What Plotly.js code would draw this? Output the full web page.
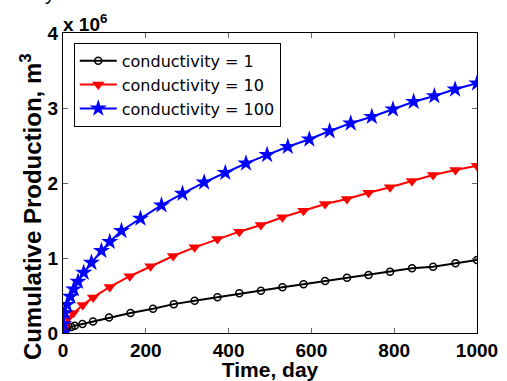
<!DOCTYPE html>
<html>
<head>
<meta charset="utf-8">
<script src="https://cdn.plot.ly/plotly-3.0.1.min.js"></script>
<style>
  html, body { margin: 0; padding: 0; background: #fff; }
  #chart { width: 507px; height: 381px; }
</style>
</head>
<body>
<div id="chart"></div>
<script>
// Cumulative production in units of 1e6 m^3
const t1 = [0, 2, 5, 10, 20.3, 28.3, 46.9, 72.5, 111.2, 163, 217.5, 267.6, 318, 373, 426, 478, 530, 581, 633, 686, 738, 790, 843, 894, 948, 1000];
const v1 = [0, 0.02, 0.04, 0.06, 0.08, 0.097, 0.12, 0.154, 0.207, 0.266, 0.323, 0.385, 0.429, 0.476, 0.529, 0.564, 0.609, 0.649, 0.693, 0.737, 0.773, 0.817, 0.862, 0.884, 0.929, 0.973];

const t10 = [0, 2, 5, 12.3, 24.9, 47.6, 72.8, 113, 161.3, 211.4, 266, 318, 373, 426, 478, 530, 581, 633, 686, 738, 790, 843, 894, 948, 1000];
const v10 = [0, 0.06, 0.12, 0.2, 0.266, 0.372, 0.474, 0.615, 0.757, 0.89, 1.027, 1.142, 1.253, 1.351, 1.44, 1.543, 1.631, 1.72, 1.787, 1.871, 1.943, 2.027, 2.107, 2.173, 2.231];

const t100 = [0, 1, 4.1, 9.7, 17.9, 25.9, 36.3, 50, 68.6, 92.8, 112.9, 141.2, 187.1, 237.9, 288.6, 341, 392, 442, 493, 543, 595, 644, 695, 746, 797, 847, 897, 947, 1000];
const v100 = [0, 0.12, 0.266, 0.376, 0.486, 0.584, 0.685, 0.805, 0.938, 1.097, 1.217, 1.363, 1.527, 1.704, 1.859, 2.009, 2.137, 2.262, 2.375, 2.484, 2.583, 2.693, 2.796, 2.884, 2.983, 3.084, 3.16, 3.249, 3.329];

const seriesNames = ['conductivity = 1', 'conductivity = 10', 'conductivity = 100'];
const xTicks = [0, 200, 400, 600, 800, 1000];
const yTicks = [0, 1, 2, 3, 4];

const FONT = 'Liberation Sans, Arial, sans-serif';

const traces = [
  { x: t1, y: v1, name: seriesNames[0], type: 'scatter', mode: 'lines+markers',
    line: { color: '#000000', width: 2 },
    marker: { symbol: 'circle-open', size: 7, color: '#000000', line: { width: 1.5, color: '#000000' } } },
  { x: t10, y: v10, name: seriesNames[1], type: 'scatter', mode: 'lines+markers',
    line: { color: '#ff0000', width: 2 },
    marker: { symbol: 'triangle-down', size: 11, color: '#ff0000' } },
  { x: t100, y: v100, name: seriesNames[2], type: 'scatter', mode: 'lines+markers',
    line: { color: '#0000ff', width: 2 },
    marker: { symbol: 'star', size: 13, color: '#0000ff' } }
];

const layout = {
  width: 507, height: 381,
  margin: { l: 63, r: 30, t: 33, b: 48 },
  paper_bgcolor: '#ffffff', plot_bgcolor: '#ffffff',
  showlegend: true,
  legend: {
    x: 0.026, y: 0.967, xanchor: 'left', yanchor: 'top',
    bgcolor: '#ffffff', bordercolor: '#000000', borderwidth: 1,
    font: { family: 'DejaVu Sans, sans-serif', size: 16, color: '#000000' },
    itemwidth: 37,
    tracegroupgap: 0
  },
  xaxis: {
    range: [0, 1000], tickvals: xTicks, ticktext: xTicks.map(String),
    showgrid: false, zeroline: false,
    showline: true, linecolor: '#000000', linewidth: 1, mirror: 'allticks',
    ticks: 'inside', ticklen: 5, tickcolor: '#666666',
    tickfont: { family: FONT, size: 19, color: '#000000', weight: 'bold' },
    title: { text: 'Time, day', font: { family: FONT, size: 21, color: '#000000', weight: 'bold' }, standoff: 2 }
  },
  yaxis: {
    range: [0, 4], tickvals: yTicks, ticktext: yTicks.map(String),
    showgrid: false, zeroline: false,
    showline: true, linecolor: '#000000', linewidth: 1, mirror: 'allticks',
    ticks: 'inside', ticklen: 5, tickcolor: '#666666',
    tickfont: { family: FONT, size: 19, color: '#000000', weight: 'bold' }
  },
  annotations: [
    { text: 'Cumulative Production, m<sup>3</sup>', xref: 'paper', yref: 'paper',
      x: -0.077, y: 0.42, xanchor: 'center', yanchor: 'middle', textangle: -90, showarrow: false,
      font: { family: FONT, size: 24, color: '#000000', weight: 'bold' } },
    { text: 'x 10<sup>6</sup>', xref: 'paper', yref: 'paper',
      x: -0.005, y: 1.0, yshift: -4, xanchor: 'left', yanchor: 'bottom', showarrow: false,
      font: { family: FONT, size: 19, color: '#000000', weight: 'bold' } },
    { text: 'y', xref: 'paper', yref: 'paper',
      x: -0.031, y: 1.09, xanchor: 'center', yanchor: 'bottom', showarrow: false,
      font: { family: FONT, size: 20, color: '#000000' } }
  ]
};

Plotly.newPlot('chart', traces, layout, { displayModeBar: false, staticPlot: true });
</script>
</body>
</html>
